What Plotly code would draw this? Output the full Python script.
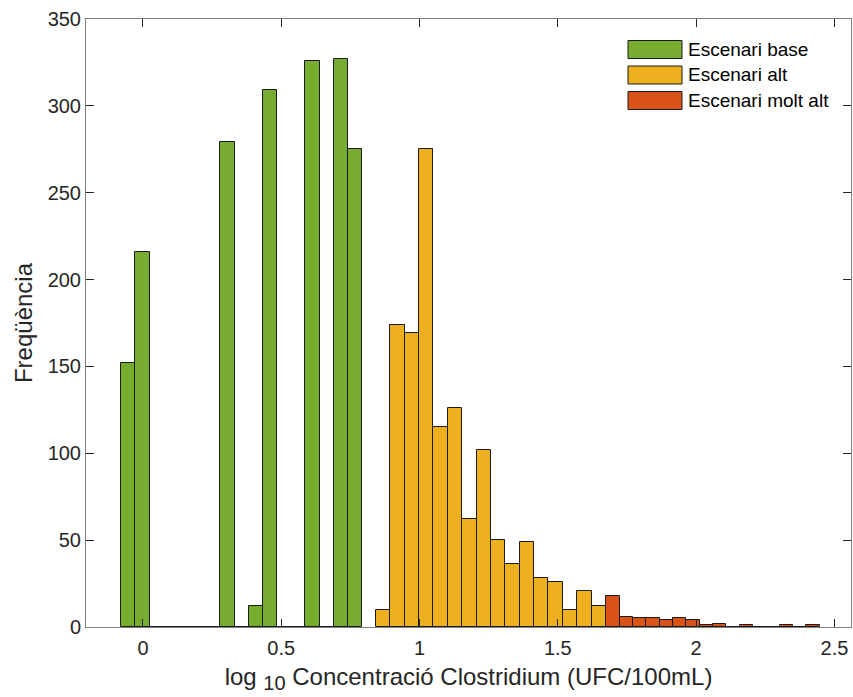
import plotly.graph_objects as go

# ---- data ----
base_start = -0.0785
base_width = 0.0512
base_counts = [152, 216, 0, 0, 0, 0, 0, 279, 0, 12, 309, 0, 0, 326, 0, 327, 275]

alt_start = 0.842
alt_width = 0.0520
alt_counts = [10, 174, 169, 275, 115, 126, 62, 102, 50, 36, 49, 28, 26, 10, 21, 12]

molt_start = 1.675
molt_width = 0.0482
molt_counts = [18, 6, 5, 5, 4, 5, 4, 1, 2, 0, 1, 0, 0, 1, 0, 1]

series_names = ["Escenari base", "Escenari alt", "Escenari molt alt"]
series_colors = ["#77AC30", "#EDB120", "#D95319"]

x_ticks = [0, 0.5, 1, 1.5, 2, 2.5]
x_ticklabels = ["0", "0.5", "1", "1.5", "2", "2.5"]
y_ticks = [0, 50, 100, 150, 200, 250, 300, 350]

FONT = "Liberation Sans, Arial, sans-serif"
W, H = 853, 697
ML, MR, MT, MB = 86, 2, 19, 70

def centers(start, width, counts):
    return [start + (i + 0.5) * width for i in range(len(counts))]

fig = go.Figure()
for (start, width, counts), name, color in zip(
    [(base_start, base_width, base_counts),
     (alt_start, alt_width, alt_counts),
     (molt_start, molt_width, molt_counts)],
    series_names, series_colors):
    fig.add_trace(go.Bar(
        x=centers(start, width, counts), y=counts, width=width,
        name=name, marker=dict(color=color, line=dict(color="#1a1a1a", width=1)),
        showlegend=False,
    ))

# manual legend (MATLAB-like wide patches)
pw = W - ML - MR
ph = H - MT - MB
def px_x(p):
    return (p - ML) / pw
def px_y(p):
    return (H - MB - p) / ph

row_y = [49.5, 75.0, 100.5]
shapes = []
annotations = []
for yc, name, color in zip(row_y, series_names, series_colors):
    shapes.append(dict(type="rect", xref="paper", yref="paper",
                       x0=px_x(628), x1=px_x(682), y0=px_y(yc - 9), y1=px_y(yc + 9),
                       fillcolor=color, line=dict(color="#1a1a1a", width=1)))
    annotations.append(dict(xref="paper", yref="paper", x=px_x(686), y=px_y(yc),
                            text=name, showarrow=False, xanchor="left", yanchor="middle",
                            font=dict(family=FONT, size=19, color="#000000")))

fig.update_layout(
    width=W, height=H,
    margin=dict(l=ML, r=MR, t=MT, b=MB, pad=0),
    paper_bgcolor="white", plot_bgcolor="white",
    barmode="overlay", bargap=0,
    showlegend=False,
    font=dict(family=FONT, size=20, color="#262626"),
    shapes=shapes, annotations=annotations,
    xaxis=dict(
        range=[-0.206, 2.56], tickvals=x_ticks, ticktext=x_ticklabels,
        ticks="inside", ticklen=8, tickwidth=1, tickcolor="#262626",
        showline=True, linecolor="#808080", linewidth=1, mirror="ticks",
        showgrid=False, zeroline=False, ticklabelstandoff=3,
        tickfont=dict(family=FONT, size=20, color="#262626"),
        title=dict(text="log <sub><span style=\"font-size:20px\">10</span></sub> Concentració Clostridium (UFC/100mL)",
                   font=dict(family=FONT, size=24, color="#262626"), standoff=10),
    ),
    yaxis=dict(
        range=[0, 350], tickvals=y_ticks,
        ticks="inside", ticklen=8, tickwidth=1, tickcolor="#262626",
        showline=True, linecolor="#808080", linewidth=1, mirror="ticks",
        showgrid=False, zeroline=False,
        tickfont=dict(family=FONT, size=20, color="#262626"),
        title=dict(text="Freqüència",
                   font=dict(family=FONT, size=24, color="#262626"), standoff=8),
    ),
)

fig.write_html("out.html")
